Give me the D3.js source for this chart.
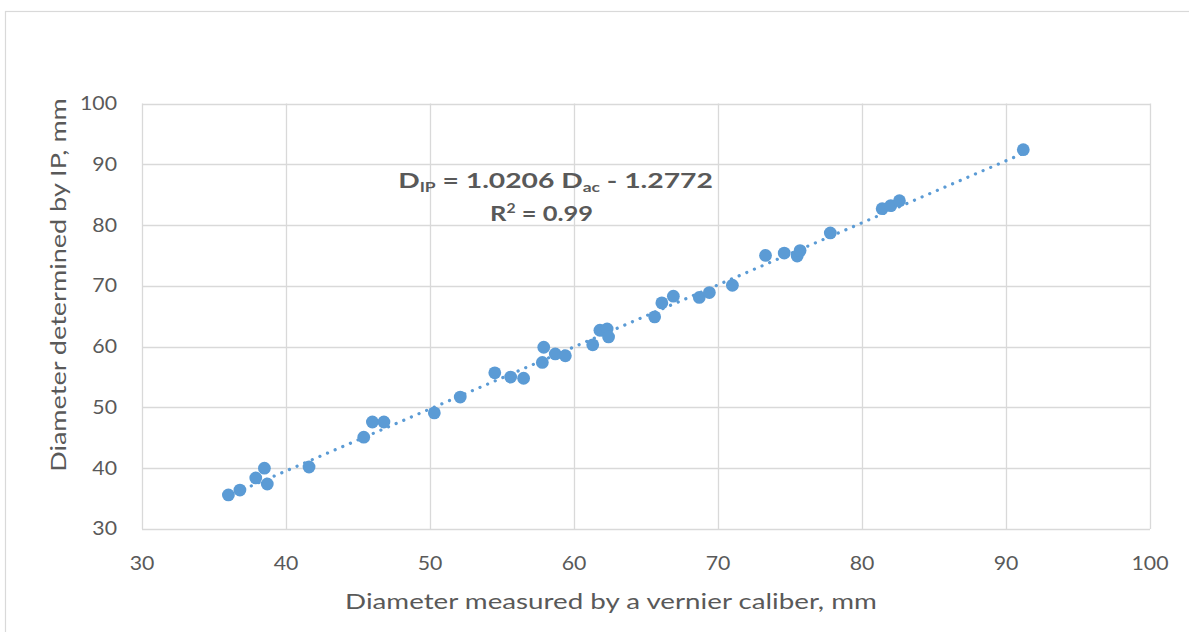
<!DOCTYPE html>
<html><head><meta charset="utf-8">
<script src="https://cdn.jsdelivr.net/npm/d3@7"></script>
<style>
html,body{margin:0;padding:0;background:#fff;}
svg{display:block;}
text{font-family:Lato,"Open Sans",sans-serif;fill:#595959;}
</style></head>
<body>
<svg id="chart" width="1189" height="632"></svg>
<script>
const measured = [36.0,36.8,37.9,38.5,38.7,41.6,45.4,46.0,46.8,50.3,52.1,54.5,55.6,56.5,57.8,57.9,58.7,59.4,61.3,61.8,62.3,62.4,65.6,66.1,66.9,68.7,69.4,71.0,73.3,74.6,75.5,75.7,77.8,81.4,82.0,82.6,91.2];
const determined = [35.6,36.4,38.4,40.0,37.4,40.2,45.1,47.6,47.6,49.1,51.7,55.7,55.0,54.8,57.4,59.9,58.8,58.5,60.3,62.7,62.9,61.6,64.9,67.2,68.3,68.1,68.9,70.1,75.0,75.4,74.9,75.8,78.7,82.7,83.2,84.0,92.4];
const xTicks = [30,40,50,60,70,80,90,100];
const yTicks = [30,40,50,60,70,80,90,100];
const slope = 1.0206, intercept = -1.2772;
const xTitle = "Diameter measured  by a vernier caliber, mm";
const yTitle = "Diameter determined by IP, mm";

const svg = d3.select("#chart");
const L = 142, R = 1150, T = 103.5, B = 529;
const x = d3.scaleLinear().domain([30,100]).range([L,R]);
const y = d3.scaleLinear().domain([30,100]).range([B,T]);

// stretch a text horizontally (in its own frame) to a target width
function fit(sel, tx, ty, target, rot) {
  const w = sel.node().getComputedTextLength();
  const s = target / w;
  sel.attr("transform", `translate(${tx},${ty})` + (rot ? ` rotate(${rot})` : "") + ` scale(${s},1)`);
}

// outer frame
svg.append("rect").attr("x",5.5).attr("y",11.5).attr("width",1200).attr("height",700)
  .attr("fill","none").attr("stroke","#d9d9d9").attr("stroke-width",1.2);

// gridlines
svg.append("g").selectAll("line").data(xTicks).join("line")
  .attr("x1",d=>Math.round(x(d))+0.5).attr("x2",d=>Math.round(x(d))+0.5)
  .attr("y1",T).attr("y2",B).attr("stroke","#d9d9d9").attr("stroke-width",1.3);
svg.append("g").selectAll("line").data(yTicks).join("line")
  .attr("y1",d=>Math.round(y(d))+0.5).attr("y2",d=>Math.round(y(d))+0.5)
  .attr("x1",L).attr("x2",R).attr("stroke","#d9d9d9").attr("stroke-width",1.3);

// tick labels
svg.append("g").selectAll("text").data(yTicks).join("text")
  .attr("text-anchor","end").attr("dy","0.35em")
  .attr("font-size",18.5).text(d=>d)
  .attr("transform",d=>`translate(117,${y(d)}) scale(1.15,1)`);
svg.append("g").selectAll("text").data(xTicks).join("text")
  .attr("text-anchor","middle")
  .attr("font-size",18.5).text(d=>d)
  .attr("transform",d=>`translate(${x(d)},570) scale(1.15,1)`);

// axis titles
const xt = svg.append("text").attr("text-anchor","middle").attr("font-size",21).text(xTitle);
fit(xt, 611, 609, 532);
const yt = svg.append("text").attr("text-anchor","middle").attr("font-size",21).text(yTitle);
fit(yt, 66, 285, 374, -90);

// trendline
const xmin = d3.min(measured), xmax = d3.max(measured);
svg.append("line")
  .attr("x1",x(xmin)).attr("y1",y(slope*xmin+intercept))
  .attr("x2",x(xmax)).attr("y2",y(slope*xmax+intercept))
  .attr("stroke","#5b9bd5").attr("stroke-width",3.2).attr("stroke-linecap","round")
  .attr("stroke-dasharray","0.1 8.2");

// points
svg.append("g").selectAll("circle").data(measured.map((m,i)=>[m,determined[i]])).join("circle")
  .attr("cx",d=>x(d[0])).attr("cy",d=>y(d[1])).attr("r",6.4).attr("fill","#5b9bd5");

// equation
const eq = svg.append("text").attr("text-anchor","middle")
  .attr("font-size",21).attr("font-weight","bold");
eq.append("tspan").text("D");
eq.append("tspan").attr("font-size",13).attr("dy",4).text("IP");
eq.append("tspan").attr("dy",-4).text(" = 1.0206 D");
eq.append("tspan").attr("font-size",13).attr("dy",4).text("ac");
eq.append("tspan").attr("dy",-4).text(" - 1.2772");
fit(eq, 555.5, 188, 315);
const r2 = svg.append("text").attr("text-anchor","middle")
  .attr("font-size",21).attr("font-weight","bold");
r2.append("tspan").text("R");
r2.append("tspan").attr("font-size",13).attr("dy",-8).text("2");
r2.append("tspan").attr("dy",8).text(" = 0.99");
fit(r2, 541.5, 221, 103);
</script>
</body></html>
